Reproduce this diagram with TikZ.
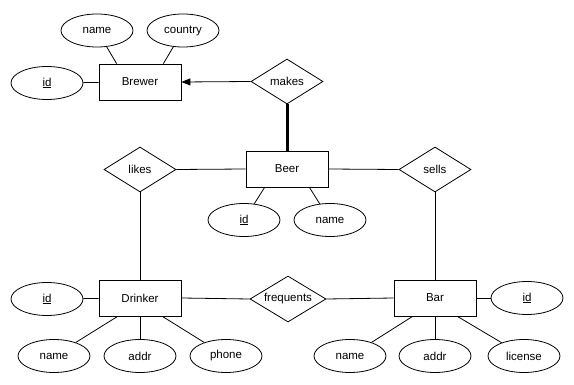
\documentclass[tikz,border=0pt]{standalone}
\usepackage{fontspec}
\setmainfont{Liberation Sans}
\usetikzlibrary{shapes.geometric,arrows.meta}
\begin{document}
\begin{tikzpicture}[x=1pt,y=-1pt,
  font=\fontsize{11.5}{13}\selectfont,
  line width=0.8pt,
  entity/.style={draw,rectangle,minimum width=82pt,minimum height=36pt,inner sep=0pt},
  attr/.style={draw,ellipse,minimum width=72pt,minimum height=33pt,inner sep=0pt},
  rel/.style={draw,diamond,minimum width=72pt,minimum height=45pt,inner sep=0pt,aspect=1.6},
  link/.style={draw,line width=0.8pt}
]
\useasboundingbox (0,0) rectangle (574,385);

% entities
\node[entity] (brewer) at (140,82) {Brewer};
\node[entity] (beer) at (287,169) {Beer};
\node[entity] (drinker) at (140,298) {Drinker};
\node[entity] (bar) at (435,298) {Bar};

% relationships
\node[rel] (makes) at (287,81.5) {makes};
\node[rel] (likes) at (140,169.5) {likes};
\node[rel] (sells) at (435,169.5) {sells};
\node[rel,minimum width=76pt,minimum height=46pt] (freq) at (288,299) {frequents};

% attributes
\node[attr] (brid) at (47,83) {\underline{id}};
\node[attr] (brname) at (97,30.5) {name};
\node[attr] (brcountry) at (183,30.5) {country};
\node[attr] (beid) at (244,220) {\underline{id}};
\node[attr] (bename) at (330,220) {name};
\node[attr] (drid) at (47,299) {\underline{id}};
\node[attr] (drname) at (54,356) {name};
\node[attr] (draddr) at (140,356) {addr};
\node[attr] (drphone) at (226,356) {phone};
\node[attr] (baid) at (527,298) {\underline{id}};
\node[attr] (baname) at (350,356) {name};
\node[attr] (baaddr) at (435,356) {addr};
\node[attr] (balic) at (524,356) {license};

% attribute links
\draw[link] (brid) -- (brewer);
\draw[link] (brname) -- ([xshift=18pt]brewer.north west);
\draw[link] (brcountry) -- ([xshift=-18pt]brewer.north east);
\draw[link] (beid) -- ([xshift=19pt]beer.south west);
\draw[link] (bename) -- ([xshift=-19pt]beer.south east);
\draw[link] (drid) -- (drinker);
\draw[link] (drname) -- ([xshift=19pt]drinker.south west);
\draw[link] (draddr) -- (drinker);
\draw[link] (drphone) -- ([xshift=-19pt]drinker.south east);
\draw[link] (baid) -- (bar);
\draw[link] (baname) -- ([xshift=19pt]bar.south west);
\draw[link] (baaddr) -- (bar);
\draw[link] (balic) -- ([xshift=-19pt]bar.south east);

% relationship links
\draw[link,-{Triangle[length=9pt,width=7pt]}] (makes.west) -- (brewer.east);
\draw[line width=3pt] (makes.south) -- (beer.north);
\draw[link] (likes.east) -- (beer.west);
\draw[link] (beer.east) -- (sells.west);
\draw[link] (likes.south) -- (drinker.north);
\draw[link] (sells.south) -- (bar.north);
\draw[link] (drinker.east) -- (freq.west);
\draw[link] (freq.east) -- (bar.west);
\end{tikzpicture}
\end{document}
